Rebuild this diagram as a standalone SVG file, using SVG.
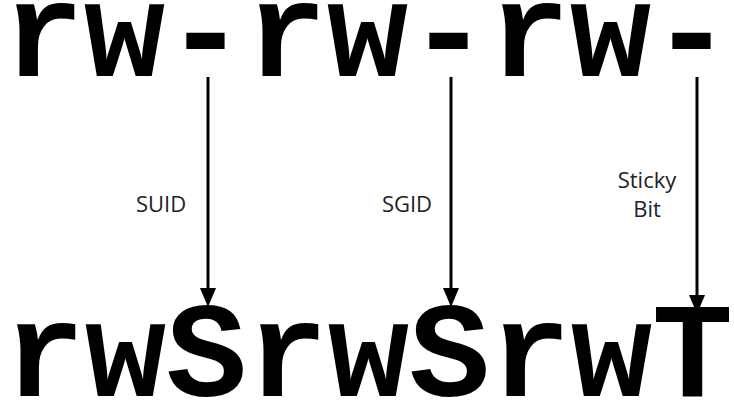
<svg xmlns="http://www.w3.org/2000/svg" width="734" height="410" viewBox="0 0 734 410">
<style>
.big{font-family:"Liberation Mono","Courier New",monospace;font-weight:bold;font-size:135px;fill:#000}
.lbl{font-family:"Open Sans","Noto Sans",sans-serif;font-size:22px;fill:#222;text-anchor:middle}
.arr{stroke:#000;stroke-width:3;fill:none;marker-end:url(#ah)}
</style>
<defs>
<marker id="ah" markerUnits="userSpaceOnUse" viewBox="0 -9 20 18" refX="1" refY="0" markerWidth="20" markerHeight="18" orient="auto">
<path d="M0,-8 L19,0 L0,8 z" fill="#000"/>
</marker>
</defs>
<rect width="734" height="410" fill="#fff"/>
<g id="top"><text class="big" x="3" y="76">rw-rw-rw-</text></g>
<g id="bottom"><text class="big" x="4" y="396">rwSrwSrwT</text></g>
<g id="connectors">
<line class="arr" x1="208" y1="77" x2="208" y2="289"/>
<line class="arr" x1="451" y1="77" x2="451" y2="289"/>
<line class="arr" x1="697" y1="77" x2="697" y2="296"/>
</g>
<g id="labels">
<text class="lbl" x="161" y="212">SUID</text>
<text class="lbl" x="407" y="212">SGID</text>
<text class="lbl" x="647" y="188">Sticky</text>
<text class="lbl" x="647" y="217">Bit</text>
</g>
</svg>
